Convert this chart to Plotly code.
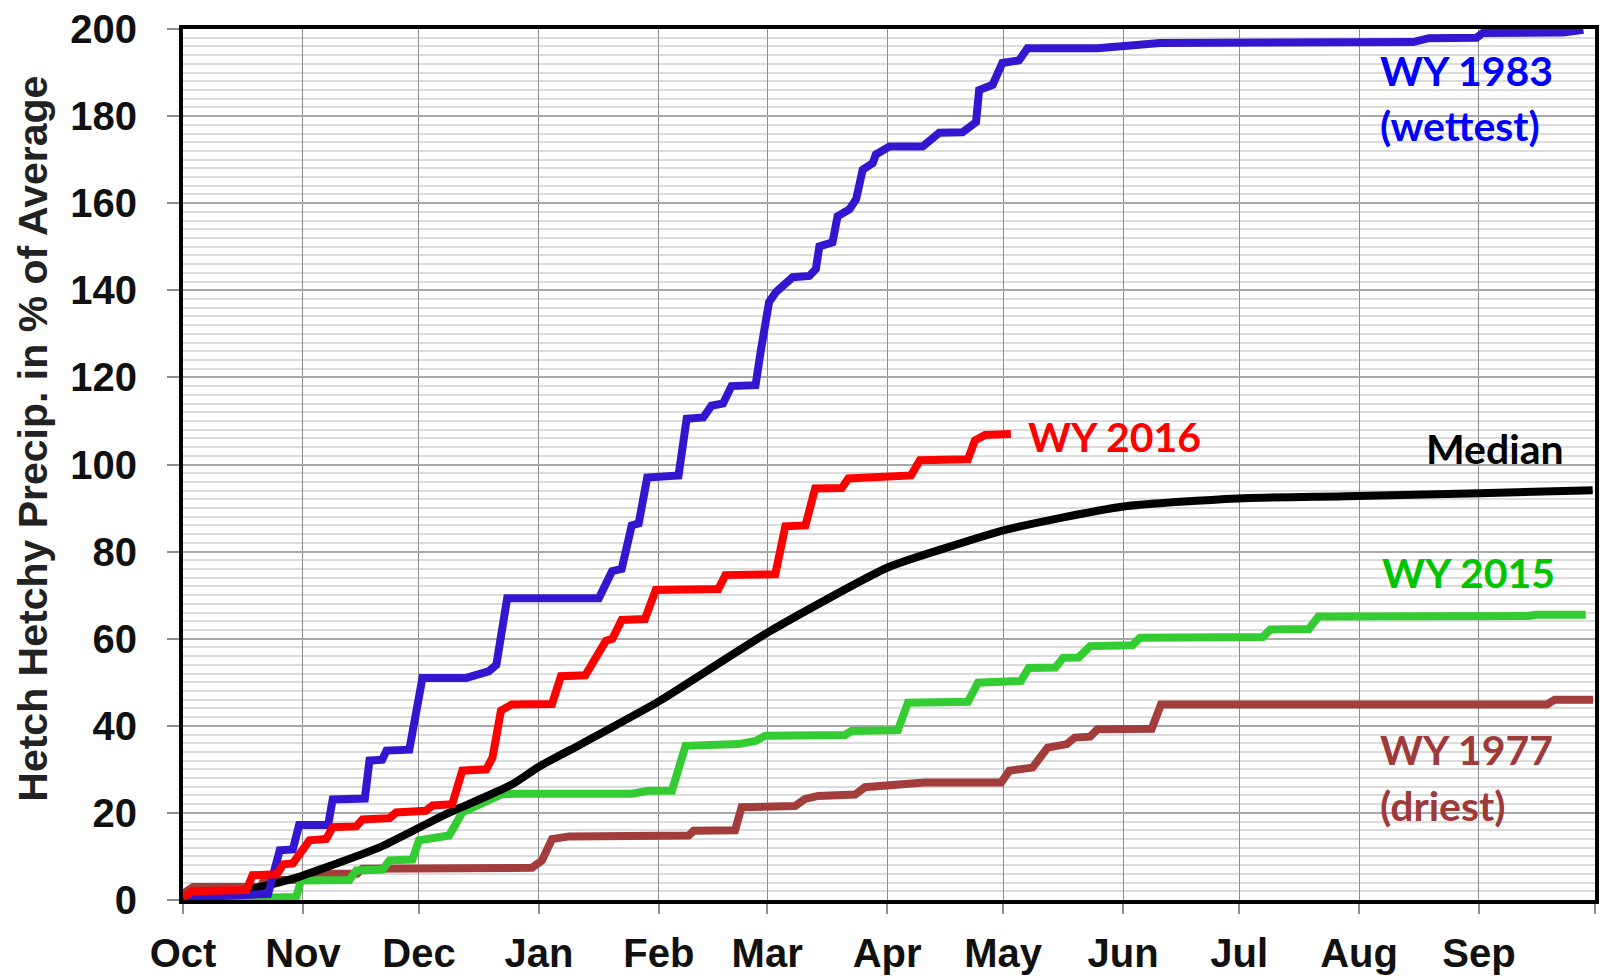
import plotly.graph_objects as go

# ---- data (day of water year starting Oct 1, % of average) ----
month_labels = ["Oct", "Nov", "Dec", "Jan", "Feb", "Mar", "Apr", "May", "Jun", "Jul", "Aug", "Sep", ""]
month_start_days = [0, 31, 61, 92, 123, 151, 182, 212, 243, 273, 304, 335, 365]

wy1983_days = [0, 21, 22, 25, 28.4, 30, 37.5, 38.7, 47, 48.2, 51.5, 52.6, 58.5, 61.9, 73.2, 79, 81, 83.8,
               107.5, 110.9, 113.4, 116.0, 117.8, 120.0, 128.1, 130.2, 134.5, 136.6, 139.6, 141.8, 148.0,
               149.3, 151.5, 153.3, 157.6, 161.9, 163.6, 164.5, 167.9, 169.2, 172.3, 174.0, 175.7, 178.3,
               179.1, 182.6, 191.2, 195.5, 201.5, 205.0, 205.8, 209.3, 211.8, 216.1, 218.3, 236.4, 252.6,
               318, 322, 334.4, 336, 356.8, 362]
wy1983_vals = [0.5, 1.0, 1.4, 11.4, 11.6, 17.2, 17.2, 23.1, 23.3, 32.0, 32.2, 34.3, 34.5, 51.0, 51.0, 52.5, 54, 69.3,
               69.3, 75.5, 76.0, 86.0, 86.5, 97.0, 97.5, 110.5, 110.8, 113.5, 114.0, 118.0, 118.2,
               125.8, 137.3, 139.6, 143.0, 143.3, 144.9, 150.1, 151.0, 157.0, 158.6, 160.9, 167.7, 169.2,
               171.2, 173.0, 173.0, 176.2, 176.3, 178.6, 186.0, 187.2, 192.2, 192.8, 195.6, 195.6, 196.8,
               197.0, 197.9, 198.0, 199.1, 199.2, 199.8]

wy2016_days = [0, 2.6, 16.4, 18, 24.2, 26, 28.4, 32.7, 37, 38.7, 44.8, 46.4, 53.4, 55.1, 62.8, 64.5, 69.6, 72.2,
               78.4, 80, 82.2, 85, 95.4, 97.7, 104, 105.5, 109.3, 111, 113.4, 119.4, 122.2, 138.4, 140.2,
               153.1, 155.7, 160.9, 163.4, 170.3, 172, 188.2, 190.5, 202.9, 204.7, 207.3, 214]
wy2016_vals = [0.7, 2.0, 2.3, 5.7, 5.9, 8.2, 8.4, 13.7, 14.0, 16.7, 16.9, 18.5, 18.8, 20.1, 20.5, 21.7, 22.0, 29.7,
               30.0, 32.7, 43.5, 44.9, 45.0, 51.4, 51.6, 54.0, 59.5, 60.0, 64.3, 64.5, 71.2, 71.4, 74.6,
               74.8, 85.8, 86.0, 94.5, 94.6, 96.8, 97.5, 101.0, 101.2, 105.5, 106.8, 107.0]

median_days = [0, 10, 20, 30, 33.5, 50.8, 61, 68, 85, 92, 102.3, 107.5, 123, 151.3, 182.3, 197, 212.6,
               242.7, 272.7, 300.6, 335.3, 364.4]
median_vals = [0, 1.2, 3.0, 5.3, 6.4, 12.1, 16.6, 19.7, 26.5, 30.6, 35.5, 38.0, 45.6, 61.5, 76.4, 80.8, 85.0,
               90.3, 92.2, 92.7, 93.4, 94.1]

wy2015_days = [0, 29.3, 30.5, 43, 44.8, 51.6, 53.4, 59.3, 61, 68.8, 72.2, 76.6, 82.5, 86, 116, 120.4, 126.4,
               129.9, 143.6, 148, 150.5, 171.1, 172.8, 184.8, 187.4, 202.9, 205.5, 216.6, 218.6, 225.5,
               227.5, 231.5, 234.5, 245.4, 247.4, 279.1, 281.1, 291, 293.5, 347.7, 349.7, 362.6]
wy2015_vals = [0, 0.7, 4.5, 4.6, 6.8, 7.0, 9.1, 9.3, 13.7, 14.8, 20.1, 22.0, 24.3, 24.4, 24.4, 25.1, 25.1,
               35.4, 35.8, 36.5, 37.7, 37.9, 38.8, 39.0, 45.3, 45.5, 49.9, 50.3, 53.3, 53.4,
               55.6, 55.7, 58.3, 58.5, 60.2, 60.4, 62.1, 62.2, 65.1, 65.2, 65.5, 65.5]

wy1977_days = [0, 2.6, 20, 21, 31, 33, 45, 46.4, 90.2, 92.8, 95.4, 99.8, 130.7, 132, 142.7, 144.4, 158.2,
               160.8, 164.2, 173.7, 176.3, 190, 191.7, 211.5, 213.6, 219.6, 223.5, 228.5, 230.5, 234.5,
               236.4, 250.4, 252.8, 352.6, 354.6, 364.5]
wy1977_vals = [1.4, 3.0, 3.0, 4.6, 4.6, 6.0, 6.0, 7.2, 7.4, 9.1, 14.0, 14.6, 14.8, 15.9, 16.0, 21.3, 21.6,
               23.2, 23.9, 24.2, 25.9, 26.6, 27.0, 27.0, 29.7, 30.4, 35.0, 35.8, 37.3, 37.5,
               39.2, 39.3, 44.9, 44.9, 46.0, 46.0]

# ---- figure ----
LW = 8
fig = go.Figure()
fig.add_trace(go.Scatter(x=wy1977_days, y=wy1977_vals, mode="lines", name="WY 1977 (driest)",
                         line=dict(color="#a23d3c", width=LW)))
fig.add_trace(go.Scatter(x=wy2015_days, y=wy2015_vals, mode="lines", name="WY 2015",
                         line=dict(color="#33cc33", width=LW)))
fig.add_trace(go.Scatter(x=median_days, y=median_vals, mode="lines", name="Median",
                         line=dict(color="#000000", width=LW, shape="spline", smoothing=0.6)))
fig.add_trace(go.Scatter(x=wy1983_days, y=wy1983_vals, mode="lines", name="WY 1983 (wettest)",
                         line=dict(color="#3416d0", width=LW)))
fig.add_trace(go.Scatter(x=wy2016_days, y=wy2016_vals, mode="lines", name="WY 2016",
                         line=dict(color="#ff0000", width=LW)))

label_font = "Lato"
LS = 41
def lab(text, x, y, color, anchor="left"):
    fig.add_annotation(x=x, y=y, xref="x", yref="y", text=text, showarrow=False,
                       xanchor=anchor, yanchor="middle",
                       font=dict(family=label_font, size=LS, color=color, weight="bold"))

lab("WY 1983", 308.8, 190.5, "#0000ff")
lab("(wettest)", 308.8, 177.8, "#0000ff")
lab("WY 2016", 217.8, 106.4, "#ff0000")
lab("Median", 357.6, 103.7, "#000000", anchor="right")
lab("WY 2015", 309.4, 75.1, "#00c400")
lab("WY 1977", 308.8, 34.5, "#9e3a39")
lab("(driest)", 308.8, 21.7, "#9e3a39")

# y-axis title as text
fig.add_annotation(x=-0.106, y=0.53, xref="paper", yref="paper",
                   text="Hetch Hetchy Precip. in % of Average", showarrow=False,
                   textangle=-90, xanchor="center", yanchor="middle",
                   font=dict(family="Liberation Sans, Arial", size=41, color="#222222", weight="bold"))

tick_font = dict(family="Liberation Sans, Arial", size=40, color="#111111", weight="bold")
fig.update_xaxes(range=[0, 365], tickmode="array", tickvals=month_start_days, ticktext=month_labels,
                 showgrid=True, gridcolor="#8c8c8c", gridwidth=1.3,
                 ticks="outside", ticklen=10, tickwidth=2, tickcolor="#8c8c8c",
                 showline=True, linecolor="#000000", linewidth=4, mirror=True,
                 tickfont=tick_font, ticklabelstandoff=5, ticklabeloverflow="allow", zeroline=False)
fig.update_yaxes(range=[0, 200], tickmode="linear", tick0=0, dtick=20,
                 showgrid=True, gridcolor="#a8a8a8", gridwidth=1.5,
                 minor=dict(dtick=2, showgrid=True, gridcolor="#dcdcdc", gridwidth=2.2, ticks=""),
                 ticks="outside", ticklen=12, tickwidth=2, tickcolor="#8c8c8c",
                 showline=True, linecolor="#000000", linewidth=4, mirror=True,
                 tickfont=tick_font, ticklabelstandoff=22, ticklabeloverflow="allow", zeroline=False)

fig.update_layout(width=1604, height=980, margin=dict(l=183, r=5, t=29, b=77),
                  paper_bgcolor="#ffffff", plot_bgcolor="#ffffff", showlegend=False)

# remove the default page margin so the figure fills the 1604x980 window exactly
page_js = ("document.documentElement.style.margin='0';document.body.style.margin='0';"
           "document.body.style.padding='0';document.documentElement.style.overflow='hidden';"
           "document.body.style.overflow='hidden';")
fig.write_html("out.html", post_script=page_js, config={"displayModeBar": False})
